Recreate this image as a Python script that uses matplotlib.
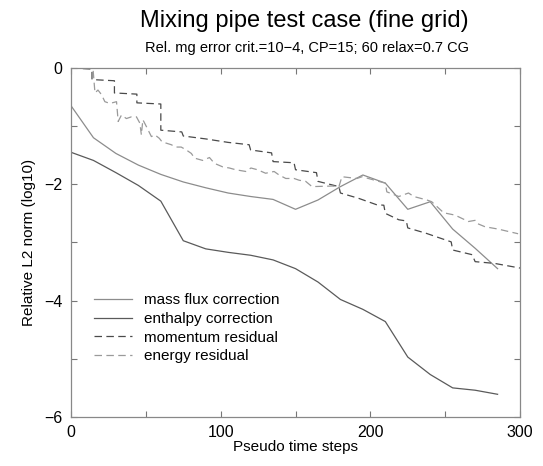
import matplotlib
matplotlib.use("Agg")
import matplotlib.pyplot as plt
from matplotlib.ticker import MultipleLocator

plt.rcParams['font.family'] = ['Liberation Sans', 'DejaVu Sans']

# correction curves, one point every 15 pseudo time steps
steps = [0, 15, 30, 45, 60, 75, 90, 105, 120, 135, 150, 165, 180, 195, 210, 225, 240, 255, 270, 285]
mass_flux = [-0.65, -1.20, -1.47, -1.67, -1.83, -1.96, -2.06, -2.15, -2.21, -2.26,
             -2.43, -2.27, -2.04, -1.84, -1.98, -2.43, -2.30, -2.77, -3.10, -3.45]
enthalpy = [-1.45, -1.59, -1.80, -2.02, -2.29, -2.97, -3.11, -3.17, -3.22, -3.30,
            -3.45, -3.68, -3.98, -4.15, -4.36, -4.97, -5.27, -5.50, -5.54, -5.61]

# momentum residual (staircase shape)
mom_x = [0, 14, 14, 29, 29, 44, 44, 60, 60, 74, 75, 90, 105, 119, 120, 134, 135, 149, 150,
         164, 165, 179, 180, 192, 204, 209, 210, 219, 224, 225, 237, 254, 255, 268, 270, 283, 300]
mom_y = [0.0, -0.02, -0.20, -0.22, -0.43, -0.45, -0.60, -0.62, -1.07, -1.10, -1.17, -1.22, -1.28,
         -1.32, -1.41, -1.46, -1.61, -1.63, -1.75, -1.80, -1.95, -2.04, -2.15, -2.24, -2.35,
         -2.36, -2.50, -2.61, -2.63, -2.75, -2.84, -2.99, -3.13, -3.21, -3.33, -3.36, -3.44]

# energy residual (jagged)
en_x = [14.8, 16, 18, 20.4, 22.6, 26, 30.4, 31.5, 33.7, 37, 40.4, 43.7, 46, 47, 48, 50.4, 53.7,
        56, 59, 60.8, 67, 70, 73.6, 77, 80.4, 82.5, 88, 92.5, 95.8, 101.3, 105.8, 110, 116.9,
        120.2, 124.6, 130, 135.7, 139, 143.5, 149, 152.4, 156.8, 161, 174.5, 179, 181, 191,
        194.5, 205.6, 210, 211, 219, 225.5, 229, 237.8, 241, 249, 256.6, 265.5, 270, 271,
        276.6, 285.4, 292, 298.7]
en_y = [-0.05, -0.43, -0.38, -0.46, -0.58, -0.61, -0.58, -0.92, -0.81, -0.87, -0.84, -0.84,
        -0.95, -1.15, -0.89, -1.01, -1.18, -1.15, -1.21, -1.27, -1.32, -1.36, -1.36, -1.41,
        -1.47, -1.55, -1.59, -1.54, -1.64, -1.70, -1.72, -1.75, -1.78, -1.72, -1.75, -1.81,
        -1.78, -1.84, -1.90, -1.90, -1.93, -1.95, -2.04, -2.03, -2.04, -1.87, -1.90, -1.87,
        -1.95, -1.98, -2.13, -2.21, -2.15, -2.21, -2.27, -2.30, -2.49, -2.53, -2.64, -2.62,
        -2.67, -2.73, -2.77, -2.81, -2.85]

fig = plt.figure(figsize=(5.43, 4.66), dpi=100)
ax = fig.add_axes([0.1308, 0.1052, 0.8269, 0.749])

ax.plot(steps, mass_flux, color='#8c8c8c', lw=0.9, label='mass flux correction')
ax.plot(steps, enthalpy, color='#5a5a5a', lw=0.9, label='enthalpy correction')
ax.plot(mom_x, mom_y, color='#4a4a4a', lw=0.9, dashes=(6, 3.5), label='momentum residual')
ax.plot(en_x, en_y, color='#9a9a9a', lw=0.9, dashes=(6, 3.5), label='energy residual')

ax.set_xlim(0, 300)
ax.set_ylim(-6, 0)
ax.xaxis.set_major_locator(MultipleLocator(100))
ax.xaxis.set_minor_locator(MultipleLocator(50))
ax.yaxis.set_major_locator(MultipleLocator(2))
ax.yaxis.set_minor_locator(MultipleLocator(1))
ax.tick_params(which='both', direction='in', top=True, right=True, length=4,
               width=0.8, color='#777777', labelsize=11.5, pad=6)
for s in ax.spines.values():
    s.set_color('#888888')
    s.set_linewidth(0.9)

ax.set_xlabel('Pseudo time steps', fontsize=11, labelpad=-0.5)
ax.set_ylabel('Relative L2 norm (log10)', fontsize=11, labelpad=6)

fig.text(0.56, 0.955, 'Mixing pipe test case (fine grid)', ha='center', va='center', fontsize=17)
fig.text(0.565, 0.898, 'Rel. mg error crit.=10\u22124, CP=15; 60 relax=0.7 CG',
         ha='center', va='center', fontsize=10.5)

ax.legend(loc='lower left', bbox_to_anchor=(0.02, 0.115), frameon=False, fontsize=11,
          handlelength=2.5, handletextpad=0.8, labelspacing=0.3)

fig.savefig('out.png', dpi=100)
